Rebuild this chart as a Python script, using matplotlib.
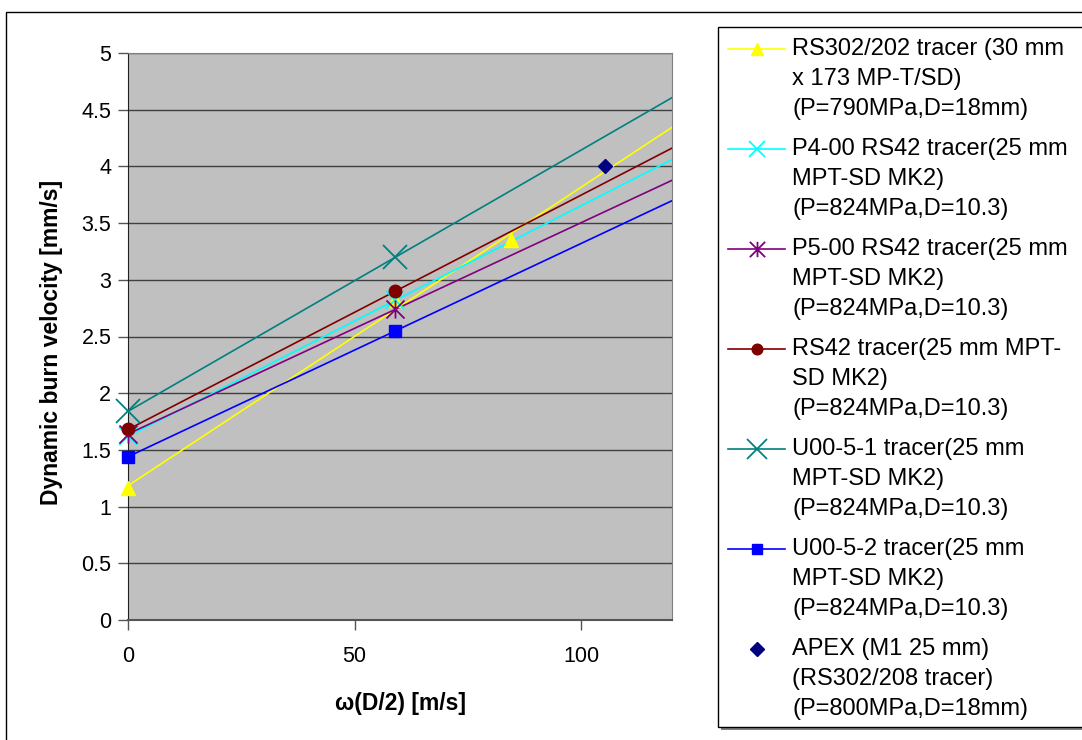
import numpy as np
import matplotlib
matplotlib.use("Agg")
from matplotlib import pyplot as plt
from matplotlib.path import Path
from matplotlib.patches import Rectangle
from matplotlib.lines import Line2D

plt.rcParams['font.family'] = ['Liberation Sans', 'DejaVu Sans']

# Series data (x = omega*D/2 [m/s], y = burn velocity [mm/s])
labels = [
    "RS302/202 tracer (30 mm\nx 173 MP-T/SD)\n(P=790MPa,D=18mm)",
    "P4-00 RS42 tracer(25 mm\nMPT-SD MK2)\n(P=824MPa,D=10.3)",
    "P5-00 RS42 tracer(25 mm\nMPT-SD MK2)\n(P=824MPa,D=10.3)",
    "RS42 tracer(25 mm MPT-\nSD MK2)\n(P=824MPa,D=10.3)",
    "U00-5-1 tracer(25 mm\nMPT-SD MK2)\n(P=824MPa,D=10.3)",
    "U00-5-2 tracer(25 mm\nMPT-SD MK2)\n(P=824MPa,D=10.3)",
    "APEX (M1 25 mm)\n(RS302/208 tracer)\n(P=800MPa,D=18mm)",
]
x_rs302 = [0, 59, 84.4]
y_rs302 = [1.16, 2.82, 3.35]
x_p4 = [0, 59]
y_p4 = [1.62, 2.82]
x_p5 = [0, 59]
y_p5 = [1.64, 2.74]
x_rs42 = [0, 59]
y_rs42 = [1.68, 2.90]
x_u1 = [0, 59]
y_u1 = [1.84, 3.20]
x_u2 = [0, 59]
y_u2 = [1.44, 2.55]
x_apex = [105.3]
y_apex = [4.0]

# Excel-like "star" marker: an X with a vertical bar
star = Path([(-1, -1), (1, 1), (-1, 1), (1, -1), (0, -1), (0, 1)],
            [Path.MOVETO, Path.LINETO, Path.MOVETO, Path.LINETO, Path.MOVETO, Path.LINETO])

series = [
    (x_rs302, y_rs302, '#FFFF00', '^', 10, 1),
    (x_p4, y_p4, '#00FFFF', 'x', 13, 1.3),
    (x_p5, y_p5, '#800080', star, 13, 1.3),
    (x_rs42, y_rs42, '#800000', 'o', 9, 1),
    (x_u1, y_u1, '#008080', 'x', 17, 1.3),
    (x_u2, y_u2, '#0000FF', 's', 8, 1),
]

W, H = 1082, 740
fig = plt.figure(figsize=(W / 100, H / 100), dpi=100)
ax = fig.add_axes([128 / W, 1 - 620 / H, 544 / W, 567 / H])
ax.set_facecolor('#C0C0C0')
xmax = 120

handle_styles = []
for xs, ys, col, mk, ms, mew in series:
    slope, icpt = np.polyfit(xs, ys, 1)
    xl = np.array([0, xmax])
    ax.plot(xl, icpt + slope * xl, color=col, lw=1.2, zorder=3)
    ax.plot(xs, ys, linestyle='none', marker=mk, ms=ms, color=col,
            mec=col, mfc=col, mew=mew, clip_on=False, zorder=4)
    handle_styles.append(dict(color=col, lw=1.2, marker=mk, ms=ms * 0.85, mec=col, mfc=col, mew=mew))
ax.plot(x_apex, y_apex, linestyle='none', marker='D', ms=7, color='#000080', zorder=4)
handle_styles.append(dict(color='#000080', lw=0, marker='D', ms=7))

ax.set_xlim(0, xmax)
ax.set_ylim(0, 5)
ax.set_xticks([0, 50, 100])
ax.set_yticks(np.arange(0, 5.01, 0.5))
ax.set_yticklabels(['0', '0.5', '1', '1.5', '2', '2.5', '3', '3.5', '4', '4.5', '5'])
ax.tick_params(direction='out', length=7, width=1, color='#555555', labelsize=15.5)
ax.tick_params(axis='y', pad=5)
ax.tick_params(axis='x', pad=12)
ax.grid(axis='y', color='#404040', lw=1)
ax.set_axisbelow(True)
for s in ['top', 'right']:
    ax.spines[s].set_color('#808080')
ax.spines['left'].set_color('#202020')
ax.spines['bottom'].set_color('#555555')
ax.spines['bottom'].set_linewidth(1.5)

ax.set_xlabel('ω(D/2) [m/s]', fontsize=16.5, fontweight='bold')
ax.set_ylabel('Dynamic burn velocity [mm/s]', fontsize=16.5, fontweight='bold')
ax.xaxis.set_label_coords(0.5, (620 - 692) / 567)
ax.yaxis.set_label_coords((63 - 128) / 544, (620 - 342) / 567)

# outer chart frame
fig.patches.append(Rectangle((6 / W, -0.01), 1.1, 1 - 12 / H + 0.01, transform=fig.transFigure,
                             fill=False, edgecolor='black', lw=1))

# legend frame with shadow
fig.patches.append(Rectangle((721 / W, 1 - 730 / H), 0.5, 700 / H, transform=fig.transFigure,
                             facecolor='#808080', edgecolor='none', zorder=1))
fig.patches.append(Rectangle((718 / W, 1 - 727 / H), 0.5, 700 / H, transform=fig.transFigure,
                             facecolor='white', edgecolor='black', lw=1, zorder=2))

# legend entries: handle on the first line, three text lines per entry
for i, (lab, st) in enumerate(zip(labels, handle_styles)):
    y0 = 49 + i * 100
    yf = 1 - y0 / H
    ln = Line2D([728 / W, 785 / W], [yf, yf], transform=fig.transFigure, color=st['color'],
                lw=st['lw'], zorder=3)
    fig.lines.append(ln)
    mk = Line2D([756.5 / W], [yf], transform=fig.transFigure, linestyle='none',
                marker=st['marker'], ms=st['ms'], color=st['color'],
                mec=st.get('mec', st['color']), mfc=st.get('mfc', st['color']),
                mew=st.get('mew', 1), zorder=4)
    fig.lines.append(mk)
    for j, line in enumerate(lab.split('\n')):
        fig.text(792 / W, 1 - (y0 + j * 30) / H, line, fontsize=17, va='center', ha='left', zorder=5)

fig.savefig('out.png', dpi=100)
